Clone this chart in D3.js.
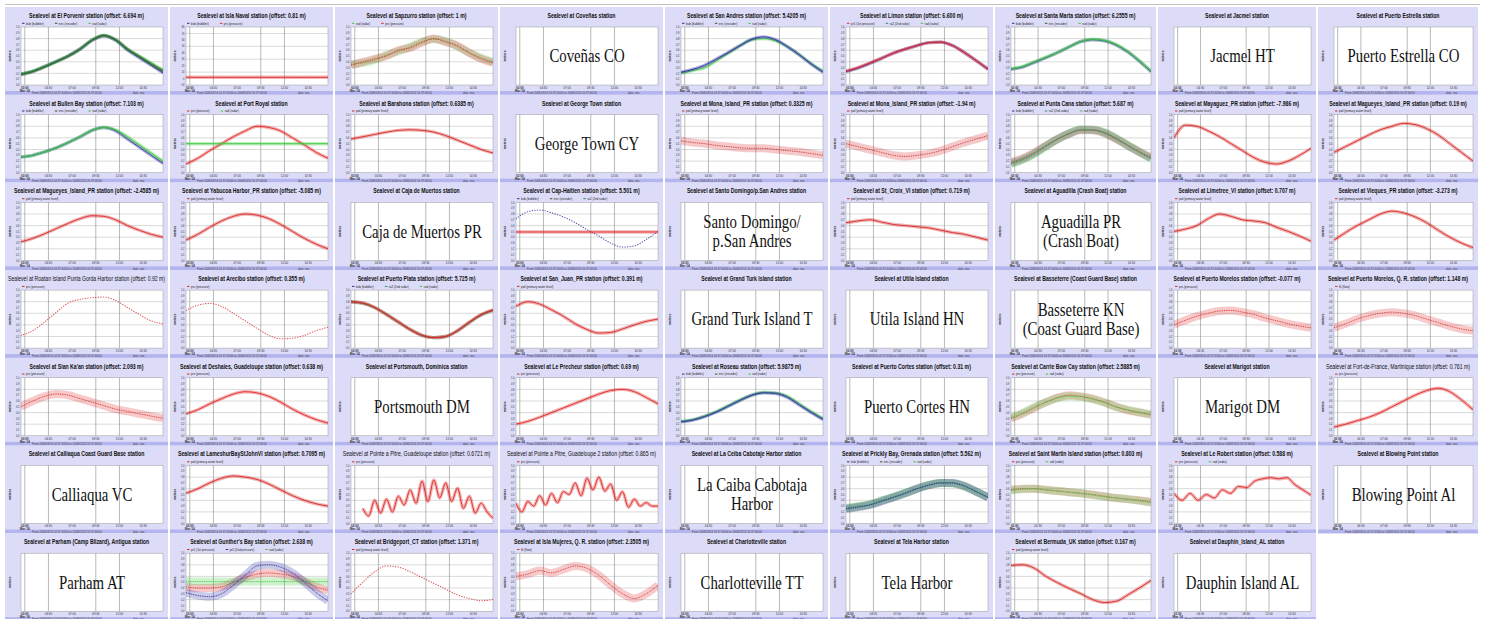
<!DOCTYPE html>
<html>
<head>
<meta charset="utf-8">
<script src="https://cdn.jsdelivr.net/npm/d3@7"></script>
<style>
  body { margin: 0; background: #fff; }
  svg { display: block; font-family: "Liberation Sans", Arial, sans-serif; }
</style>
</head>
<body>
<svg id="chart" width="1485" height="619"></svg>
<script>
// ---------------- data ----------------
const titles = [
    "Sealevel at El Porvenir station (offset: 6.694 m)",
    "Sealevel at Isla Naval station (offset: 0.81 m)",
    "Sealevel at Sapzurro station (offset: 1 m)",
    "Sealevel at Coveñas station",
    "Sealevel at San Andres station (offset: 5.4205 m)",
    "Sealevel at Limon station (offset: 6.600 m)",
    "Sealevel at Santa Marta station (offset: 6.2555 m)",
    "Sealevel at Jacmel station",
    "Sealevel at Puerto Estrella station",
    "Sealevel at Bullen Bay station (offset: 7.103 m)",
    "Sealevel at Port Royal station",
    "Sealevel at Barahona station (offset: 0.6385 m)",
    "Sealevel at George Town station",
    "Sealevel at Mona_Island_PR station (offset: 0.3325 m)",
    "Sealevel at Mona_Island_PR station (offset: -1.94 m)",
    "Sealevel at Punta Cana station (offset: 5.687 m)",
    "Sealevel at Mayaguez_PR station (offset: -7.986 m)",
    "Sealevel at Magueyes_Island_PR station (offset: 0.19 m)",
    "Sealevel at Magueyes_Island_PR station (offset: -2.4585 m)",
    "Sealevel at Yabucoa Harbor_PR station (offset: -5.085 m)",
    "Sealevel at Caja de Muertos station",
    "Sealevel at Cap-Haitien station (offset: 5.501 m)",
    "Sealevel at Santo Domingo/p.San Andres station",
    "Sealevel at St_Croix_VI station (offset: 0.719 m)",
    "Sealevel at Aguadilla (Crash Boat) station",
    "Sealevel at Limetree_VI station (offset: 0.707 m)",
    "Sealevel at Vieques_PR station (offset: -3.273 m)",
    "Sealevel at Roatan Island Punta Gorda Harbor station (offset: 0.92 m)",
    "Sealevel at Arecibo station (offset: 0.355 m)",
    "Sealevel at Puerto Plata station (offset: 5.725 m)",
    "Sealevel at San_Juan_PR station (offset: 0.391 m)",
    "Sealevel at Grand Turk Island station",
    "Sealevel at Utila Island station",
    "Sealevel at Basseterre (Coast Guard Base) station",
    "Sealevel at Puerto Morelos station (offset: -0.077 m)",
    "Sealevel at Puerto Morelos, Q. R. station (offset: 1.148 m)",
    "Sealevel at Sian Ka'an station (offset: 2.093 m)",
    "Sealevel at Deshaies, Guadeloupe station (offset: 0.638 m)",
    "Sealevel at Portsmouth, Dominica station",
    "Sealevel at Le Precheur station (offset: 0.69 m)",
    "Sealevel at Roseau station (offset: 5.9875 m)",
    "Sealevel at Puerto Cortes station (offset: 0.31 m)",
    "Sealevel at Carrie Bow Cay station (offset: 2.5885 m)",
    "Sealevel at Marigot station",
    "Sealevel at Fort-de-France, Martinique station (offset: 0.761 m)",
    "Sealevel at Calliaqua Coast Guard Base station",
    "Sealevel at LameshurBayStJohnVI station (offset: 0.7095 m)",
    "Sealevel at Pointe a Pitre, Guadeloupe station (offset: 0.6721 m)",
    "Sealevel at Pointe a Pitre, Guadeloupe 2 station (offset: 0.865 m)",
    "Sealevel at La Ceiba Cabotaje Harbor station",
    "Sealevel at Prickly Bay, Grenada station (offset: 5.562 m)",
    "Sealevel at Saint Martin Island station (offset: 0.803 m)",
    "Sealevel at Le Robert station (offset: 0.588 m)",
    "Sealevel at Blowing Point station",
    "Sealevel at Parham (Camp Blizard), Antigua station",
    "Sealevel at Gunther's Bay station (offset: 2.638 m)",
    "Sealevel at Bridgeport_CT station (offset: 1.371 m)",
    "Sealevel at Isla Mujeres, Q. R. station (offset: 2.3505 m)",
    "Sealevel at Charlotteville station",
    "Sealevel at Tela Harbor station",
    "Sealevel at Bermuda_UK station (offset: 0.167 m)",
    "Sealevel at Dauphin_Island_AL station"
];

// stations without data: label written in the plot
const placeholderText = {
    3: "Coveñas CO", 7: "Jacmel HT", 8: "Puerto Estrella CO", 12: "George Town CY",
    20: "Caja de Muertos PR", 22: "Santo Domingo/\np.San Andres", 24: "Aguadilla PR\n(Crash Boat)",
    31: "Grand Turk Island T", 32: "Utila Island HN", 33: "Basseterre KN\n(Coast Guard Base)",
    38: "Portsmouth DM", 41: "Puerto Cortes HN", 43: "Marigot DM", 45: "Calliaqua VC",
    49: "La Caiba Cabotaja\nHarbor", 53: "Blowing Point Al", 54: "Parham AT",
    58: "Charlotteville TT", 59: "Tela Harbor", 61: "Dauphin Island AL"
};

const sensorNames = {
    bub: "bub (bubbler)", enc: "enc (encoder)", rad: "rad (radar)", ra2: "ra2 (2nd radar)",
    prs: "prs (pressure)", pr1: "pr1 (1st pressure)", pr2: "pr2 (2nd pressure)",
    pwl: "pwl (primary water level)", flt: "flt (float)"
};

const legendCodes = [
    ["bub", "enc", "rad"], ["bub", "prs"], ["rad", "prs"], [], ["bub", "enc", "rad"], ["pr1", "ra2", "rad"], ["bub", "enc", "rad"], [], [],
    ["bub", "enc", "rad"], ["prs", "rad"], ["pwl"], [], ["pwl"], ["pwl"], ["bub", "ra2", "rad"], ["pwl"], ["pwl"],
    ["pwl"], ["pwl"], [], ["bub", "enc", "ra2"], [], ["pwl"], [], ["pwl"], ["pwl"],
    ["prs"], ["prs"], ["bub", "ra2", "rad"], ["pwl"], [], [], [], ["prs"], ["flt"],
    ["prs"], ["prs"], [], ["prs"], ["bub", "enc", "rad"], [], ["prs", "rad"], [], ["prs"],
    [], ["pwl"], ["prs"], ["prs"], [], ["bub", "enc", "rad"], ["prs", "rad"], ["prs", "rad"], [],
    [], ["pr1", "pr2", "rad"], ["pwl"], ["flt"], [], [], ["pwl"], []
];

// time window (hours of 2008-03-14) and its tick marks
const timeDomain = [1.6, 16.6];
const timeTicks = [2, 4.5, 7, 9.5, 12, 14.5];
const timeLabels = ["02:00", "04:30", "07:00", "09:30", "12:00", "14:30"];
const dateLabel = "Mar 14";
const footerText = "From 2008/03/14 01:37:40/00 to 2008/03/14 16:37:40/00";
const footerData = "data: sea";

// level ticks (m)
const levelTicks = [0, 0.1, 0.2, 0.3, 0.4, 0.5, 0.6, 0.7, 0.8, 0.9, 1.0];
const islaNavalTicks = [-10, 0, 10, 20, 30, 40, 50, 60, 70, 80];

// series: [sensor, values evenly spaced over the time window]
const panelSeries = [
    // row 1
    [["bub", [0.19, 0.24, 0.32, 0.41, 0.5, 0.62, 0.77, 0.85, 0.77, 0.6, 0.47, 0.34, 0.21]],
     ["rad", [0.19, 0.24, 0.32, 0.41, 0.5, 0.62, 0.78, 0.86, 0.78, 0.62, 0.5, 0.38, 0.26]],
     ["enc", [0.18, 0.23, 0.31, 0.4, 0.5, 0.62, 0.77, 0.85, 0.78, 0.62, 0.49, 0.36, 0.24]]],
    [["prs", [2, 2, 2, 2, 2, 2, 2, 2, 2, 2, 2, 2, 2]]],
    [["rad", [0.36, 0.38, 0.43, 0.52, 0.58, 0.66, 0.75, 0.79, 0.76, 0.66, 0.56, 0.47, 0.4]],
     ["prs", [0.34, 0.4, 0.45, 0.5, 0.6, 0.64, 0.73, 0.8, 0.74, 0.68, 0.55, 0.45, 0.38]]],
    [],
    [["rad", [0.2, 0.25, 0.3, 0.42, 0.55, 0.68, 0.78, 0.8, 0.76, 0.66, 0.52, 0.37, 0.24]],
     ["bub", [0.22, 0.27, 0.34, 0.45, 0.56, 0.68, 0.79, 0.83, 0.78, 0.66, 0.52, 0.36, 0.22]]],
    [["bub", [0.23, 0.29, 0.37, 0.46, 0.55, 0.62, 0.68, 0.73, 0.74, 0.68, 0.56, 0.42, 0.27]],
     ["pr1", [0.24, 0.3, 0.38, 0.46, 0.55, 0.62, 0.68, 0.73, 0.74, 0.68, 0.56, 0.42, 0.28]]],
    [["bub", [0.27, 0.31, 0.39, 0.47, 0.56, 0.66, 0.75, 0.78, 0.76, 0.69, 0.57, 0.41, 0.23]],
     ["rad", [0.28, 0.32, 0.4, 0.48, 0.56, 0.66, 0.75, 0.79, 0.77, 0.7, 0.58, 0.42, 0.24]]],
    [], [],
    // row 2
    [["bub", [0.27, 0.3, 0.36, 0.43, 0.52, 0.62, 0.73, 0.78, 0.72, 0.58, 0.44, 0.3, 0.16]],
     ["rad", [0.27, 0.3, 0.36, 0.43, 0.52, 0.62, 0.73, 0.78, 0.74, 0.62, 0.48, 0.34, 0.2]]],
    [["prs", [0.15, 0.25, 0.38, 0.5, 0.62, 0.72, 0.8, 0.78, 0.72, 0.6, 0.48, 0.35, 0.25]],
     ["rad", [0.5, 0.5, 0.5, 0.5, 0.5, 0.5, 0.5, 0.5, 0.5, 0.5, 0.5, 0.5, 0.5]]],
    [["pwl", [0.58, 0.62, 0.66, 0.7, 0.73, 0.74, 0.73, 0.7, 0.64, 0.56, 0.48, 0.4, 0.34]]],
    [],
    [["pwl", [0.55, 0.52, 0.5, 0.47, 0.45, 0.43, 0.42, 0.42, 0.4, 0.38, 0.36, 0.33, 0.3]]],
    [["pwl", [0.5, 0.45, 0.4, 0.35, 0.3, 0.28, 0.3, 0.33, 0.38, 0.45, 0.52, 0.58, 0.64]]],
    [["rad", [0.15, 0.22, 0.32, 0.45, 0.58, 0.68, 0.75, 0.74, 0.7, 0.6, 0.48, 0.36, 0.25]],
     ["prs", [0.18, 0.25, 0.35, 0.47, 0.58, 0.67, 0.73, 0.73, 0.68, 0.58, 0.47, 0.36, 0.27]],
     ["ra2", [0.16, 0.23, 0.33, 0.46, 0.58, 0.68, 0.74, 0.74, 0.69, 0.59, 0.47, 0.35, 0.24]]],
    [["pwl", [0.6, 0.82, 0.8, 0.72, 0.62, 0.5, 0.38, 0.26, 0.18, 0.15, 0.2, 0.3, 0.42]]],
    [["pwl", [0.35, 0.45, 0.55, 0.65, 0.74, 0.8, 0.85, 0.83, 0.76, 0.65, 0.5, 0.35, 0.2]]],
    // row 3
    [["pwl", [0.32, 0.38, 0.46, 0.55, 0.64, 0.72, 0.77, 0.76, 0.7, 0.6, 0.52, 0.45, 0.4]]],
    [["pwl", [0.35, 0.45, 0.57, 0.68, 0.76, 0.8, 0.78, 0.72, 0.62, 0.5, 0.38, 0.28, 0.2]]],
    [],
    [["bub", [0.72, 0.84, 0.87, 0.82, 0.75, 0.65, 0.53, 0.42, 0.3, 0.23, 0.25, 0.36, 0.5]],
     ["prs", [0.49, 0.49, 0.49, 0.49, 0.49, 0.49, 0.49, 0.49, 0.49, 0.49, 0.49, 0.49, 0.49]]],
    [],
    [["pwl", [0.65, 0.68, 0.7, 0.66, 0.62, 0.6, 0.58, 0.56, 0.52, 0.48, 0.45, 0.4, 0.35]]],
    [],
    [["pwl", [0.5, 0.54, 0.6, 0.72, 0.8, 0.76, 0.7, 0.68, 0.65, 0.57, 0.5, 0.42, 0.33]]],
    [["pwl", [0.35, 0.48, 0.6, 0.7, 0.8, 0.85, 0.82, 0.75, 0.65, 0.52, 0.4, 0.3, 0.22]]],
    // row 4
    [["prs", [0.22, 0.3, 0.45, 0.62, 0.78, 0.84, 0.87, 0.88, 0.82, 0.7, 0.58, 0.47, 0.42]]],
    [["prs", [0.65, 0.74, 0.77, 0.72, 0.6, 0.47, 0.34, 0.22, 0.16, 0.17, 0.22, 0.3, 0.36]]],
    [["enc", [0.8, 0.77, 0.7, 0.58, 0.45, 0.32, 0.22, 0.18, 0.2, 0.3, 0.44, 0.57, 0.65]],
     ["prs", [0.8, 0.78, 0.7, 0.58, 0.45, 0.32, 0.22, 0.18, 0.2, 0.3, 0.45, 0.58, 0.66]]],
    [["pwl", [0.72, 0.8, 0.76, 0.66, 0.55, 0.42, 0.32, 0.26, 0.27, 0.33, 0.4, 0.46, 0.5]]],
    [], [], [],
    [["prs", [0.4, 0.48, 0.55, 0.6, 0.64, 0.65, 0.62, 0.58, 0.52, 0.47, 0.42, 0.38, 0.35]]],
    [["flt", [0.35, 0.42, 0.5, 0.56, 0.6, 0.62, 0.6, 0.56, 0.5, 0.44, 0.38, 0.33, 0.3]]],
    // row 5
    [["prs", [0.5, 0.6, 0.68, 0.72, 0.7, 0.64, 0.58, 0.52, 0.46, 0.42, 0.38, 0.34, 0.3]]],
    [["prs", [0.38, 0.45, 0.55, 0.64, 0.72, 0.76, 0.74, 0.68, 0.58, 0.46, 0.36, 0.28, 0.22]]],
    [],
    [["prs", [0.2, 0.25, 0.32, 0.4, 0.48, 0.56, 0.64, 0.72, 0.78, 0.8, 0.76, 0.66, 0.55]]],
    [["rad", [0.25, 0.28, 0.34, 0.42, 0.52, 0.62, 0.7, 0.75, 0.74, 0.68, 0.55, 0.42, 0.3]],
     ["bub", [0.24, 0.27, 0.33, 0.41, 0.51, 0.61, 0.7, 0.74, 0.73, 0.66, 0.53, 0.4, 0.28]]],
    [],
    [["prs", [0.3, 0.38, 0.48, 0.58, 0.66, 0.7, 0.68, 0.64, 0.58, 0.5, 0.44, 0.4, 0.36]],
     ["rad", [0.32, 0.4, 0.5, 0.58, 0.65, 0.68, 0.67, 0.63, 0.57, 0.5, 0.45, 0.41, 0.37]]],
    [],
    [["prs", [0.15, 0.2, 0.26, 0.32, 0.4, 0.5, 0.6, 0.7, 0.78, 0.82, 0.76, 0.62, 0.45]]],
    // row 6
    [],
    [["pwl", [0.52, 0.6, 0.7, 0.78, 0.82, 0.8, 0.76, 0.68, 0.58, 0.48, 0.4, 0.34, 0.3]]],
    [["prs", [null, null, 0.26, 0.13, 0.4, 0.18, 0.42, 0.2, 0.47, 0.32, 0.58, 0.35, 0.73,
              0.38, 0.75, 0.44, 0.7, 0.38, 0.61, 0.26, 0.47, 0.18, 0.35, 0.2, 0.09]]],
    [["prs", [0.35, 0.2, 0.38, 0.3, 0.48, 0.32, 0.52, 0.36, 0.55, 0.5, 0.7, 0.48, 0.78,
              0.58, 0.8, 0.56, 0.68, 0.4, 0.55, 0.28, 0.42, 0.3, 0.36, 0.3, 0.3]]],
    [],
    [["enc", [0.26, 0.29, 0.32, 0.39, 0.45, 0.52, 0.6, 0.66, 0.7, 0.7, 0.64, 0.55, 0.45]],
     ["rad", [0.27, 0.3, 0.33, 0.4, 0.46, 0.53, 0.6, 0.67, 0.7, 0.69, 0.64, 0.55, 0.46]],
     ["bub", [0.25, 0.28, 0.32, 0.38, 0.45, 0.52, 0.6, 0.66, 0.7, 0.7, 0.65, 0.55, 0.45]]],
    [["prs", [0.58, 0.6, 0.6, 0.58, 0.56, 0.54, 0.52, 0.5, 0.47, 0.44, 0.42, 0.4, 0.37]],
     ["rad", [0.57, 0.59, 0.6, 0.58, 0.56, 0.54, 0.52, 0.49, 0.46, 0.44, 0.42, 0.39, 0.36]]],
    [["prs", [0.52, 0.4, 0.52, 0.4, 0.5, 0.44, 0.58, 0.52, 0.64, 0.62, 0.73, 0.77, 0.79,
              0.77, 0.79, 0.67, 0.58, 0.49]]],
    [],
    // row 7
    [],
    [["pr1", [0.42, 0.4, 0.4, 0.42, 0.5, 0.58, 0.64, 0.66, 0.64, 0.6, 0.52, 0.42, 0.36]],
     ["rad", [0.51, 0.51, 0.51, 0.51, 0.51, 0.51, 0.51, 0.51, 0.51, 0.51, 0.51, 0.51, 0.51]],
     ["pr2", [0.32, 0.27, 0.25, 0.3, 0.45, 0.62, 0.78, 0.8, 0.76, 0.66, 0.5, 0.32, 0.18]]],
    [["pwl", [0.3, 0.5, 0.68, 0.78, 0.76, 0.68, 0.58, 0.48, 0.38, 0.28, 0.22, 0.18, 0.2]]],
    [["flt", [0.6, 0.64, 0.7, 0.66, 0.72, 0.78, 0.74, 0.62, 0.45, 0.3, 0.22, 0.3, 0.45]]],
    [], [],
    [["pwl", [0.79, 0.8, 0.74, 0.6, 0.49, 0.39, 0.3, 0.2, 0.15, 0.17, 0.28, 0.4, 0.53]]],
    []
];

// ---------------- layout & style ----------------
const colEdges = [5, 170, 335, 500, 665, 830, 995, 1158, 1318, 1480];
const rowStep = 87.7;
const sensorColors = {
    bub: "#2b2ba8", enc: "#2c5a2c", rad: "#3cc83c", ra2: "#2a8c7a",
    prs: "#e02828", pr1: "#e02828", pr2: "#2b2ba8", pwl: "#d82828", flt: "#e03030"
};
const noisyPanels = new Set([2, 13, 14, 15, 34, 35, 36, 42, 50, 51, 55, 57]);
const dottedPanels = new Set([27, 28, 56]);
const lightTitles = new Set([27, 44, 47, 48]);
const gridTimes = [timeTicks[0], timeTicks[1], timeTicks[3], timeTicks[4]];

const svg = d3.select("#chart");

// narrow text horizontally (the original screenshots are squeezed)
function squash(sel, k, maxW) {
    sel.each(function() {
        const el = d3.select(this);
        const w = this.getComputedTextLength();
        let s = k;
        if (maxW && w * s > maxW) s = maxW / w;
        const x0 = +el.attr("x"), y0 = +el.attr("y");
        el.attr("x", 0).attr("y", 0)
            .attr("transform", `translate(${x0},${y0}) scale(${s},1)`);
    });
}

svg.append("line")
    .attr("x1", 5).attr("x2", 1480).attr("y1", 4.5).attr("y2", 4.5)
    .attr("stroke", "#c4c4c4").attr("stroke-width", 1);

titles.forEach(function(title, i) {
    const r = Math.floor(i / 9), c = i % 9;
    const L = colEdges[c], R = colEdges[c + 1] - 2, T = 7 + r * rowStep;
    const pl = L + 16, pr = R - 5, pt = T + 20, pb = T + 78;
    const g = svg.append("g");

    // panel background and footer bar
    g.append("rect").attr("x", L).attr("y", T).attr("width", R - L).attr("height", rowStep)
        .attr("fill", "#dcdcf8");
    g.append("rect").attr("x", L).attr("y", T + 84).attr("width", R - L).attr("height", 3.9)
        .attr("fill", "#b4b4ee");

    const t = g.append("text")
        .attr("x", (L + R) / 2).attr("y", T + 10.8)
        .attr("text-anchor", "middle")
        .attr("font-size", 7)
        .attr("font-weight", lightTitles.has(i) ? "normal" : "bold")
        .attr("fill", "#111")
        .text(title);
    squash(t, 0.74, R - L - 6);

    const x = d3.scaleLinear().domain(timeDomain).range([pl, pr]);
    const ticks = i === 1 ? islaNavalTicks : levelTicks;
    const y = d3.scaleLinear().domain(d3.extent(ticks)).range([pb, pt]);
    const isEmpty = placeholderText[i] !== undefined;

    g.append("rect").attr("x", pl).attr("y", pt).attr("width", pr - pl).attr("height", pb - pt)
        .attr("fill", "#fff").attr("stroke", "#9a9a9a").attr("stroke-width", 0.5);

    // grid
    if (!isEmpty) {
        g.selectAll(null)
            .data(ticks.filter((d, k) => k > 0 && k < ticks.length - 1 && k % 2 === 0))
            .join("line")
            .attr("x1", pl).attr("x2", pr)
            .attr("y1", d => y(d)).attr("y2", d => y(d))
            .attr("stroke", "#b4b4b4").attr("stroke-width", 0.5);
    }
    g.selectAll(null)
        .data(gridTimes)
        .join("line")
        .attr("x1", d => x(d)).attr("x2", d => x(d))
        .attr("y1", pt).attr("y2", pb)
        .attr("stroke", "#8c8c8c").attr("stroke-width", 0.6);

    // y axis labels
    if (!isEmpty) {
        const yl = g.selectAll(null)
            .data(ticks)
            .join("text")
            .attr("x", pl - 1.5).attr("y", d => y(d) + 1.1)
            .attr("text-anchor", "end")
            .attr("font-size", 3.2)
            .attr("fill", "#333")
            .text(d => i === 1 ? d3.format("d")(d) : d3.format(".1f")(d));
        squash(yl, 0.8);
    }
    g.append("text")
        .attr("transform", `translate(${L + 5.5},${(pt + pb) / 2}) rotate(-90)`)
        .attr("text-anchor", "middle")
        .attr("font-size", 3.4).attr("font-weight", "bold").attr("fill", "#333")
        .text("meters");

    // x axis labels
    const xl = g.selectAll(null)
        .data(timeTicks)
        .join("text")
        .attr("x", d => x(d)).attr("y", pb + 3.8)
        .attr("text-anchor", "middle")
        .attr("font-size", 3.5)
        .attr("font-weight", (d, k) => k === 0 ? "bold" : "normal")
        .attr("fill", "#333")
        .text((d, k) => timeLabels[k]);
    squash(xl, 0.85);
    g.append("text")
        .attr("x", x(timeTicks[0])).attr("y", pb + 6.9)
        .attr("text-anchor", "middle")
        .attr("font-size", 3.2).attr("font-weight", "bold").attr("fill", "#333")
        .text(dateLabel);

    // footer
    const ft = g.append("text")
        .attr("x", L + 27).attr("y", T + 87.1)
        .attr("font-size", 3.4).attr("fill", "#444")
        .text(footerText);
    squash(ft, 0.82);
    const fd = g.append("text")
        .attr("x", L + 128).attr("y", T + 87.1)
        .attr("font-size", 3.4).attr("fill", "#444")
        .text(footerData);
    squash(fd, 0.82);

    if (isEmpty) {
        const lines = placeholderText[i].split("\n");
        const cy = (pt + pb) / 2;
        lines.forEach(function(line, k) {
            const off = (k - (lines.length - 1) / 2) * 19;
            const pt2 = g.append("text")
                .attr("x", (pl + pr) / 2).attr("y", cy + off + 6.3)
                .attr("text-anchor", "middle")
                .attr("font-family", "'Liberation Serif', 'Times New Roman', serif")
                .attr("font-size", 19).attr("fill", "#111")
                .text(line);
            squash(pt2, 0.78, pr - pl - 4);
        });
        return;
    }

    // legend
    let lx = pl + 1;
    legendCodes[i].forEach(function(code) {
        g.append("line").attr("x1", lx).attr("x2", lx + 2.5)
            .attr("y1", T + 16.3).attr("y2", T + 16.3)
            .attr("stroke", sensorColors[code]).attr("stroke-width", 1);
        const lt = g.append("text")
            .attr("x", lx + 4).attr("y", T + 17.5)
            .attr("font-size", 4).attr("fill", "#222")
            .text(sensorNames[code]);
        const w = lt.node().getComputedTextLength() * 0.75;
        squash(lt, 0.75);
        lx += 4 + w + 11;
    });

    // series
    const clipId = "clip" + i;
    g.append("clipPath").attr("id", clipId)
        .append("rect").attr("x", pl).attr("y", pt).attr("width", pr - pl).attr("height", pb - pt);
    const plot = g.append("g").attr("clip-path", `url(#${clipId})`);

    panelSeries[i].forEach(function(s) {
        const code = s[0], vals = s[1];
        const idx = d3.scaleLinear().domain([0, vals.length - 1]).range(timeDomain);
        const line = d3.line()
            .defined(d => d != null)
            .x((d, j) => x(idx(j)))
            .y(d => y(d))
            .curve(d3.curveMonotoneX);
        const col = sensorColors[code];
        if (dottedPanels.has(i) || (i === 21 && code === "bub")) {
            plot.append("path").attr("d", line(vals))
                .attr("fill", "none").attr("stroke", col)
                .attr("stroke-width", 1.1).attr("stroke-linecap", "round")
                .attr("stroke-dasharray", "0.4,2.2").attr("opacity", 0.8);
            return;
        }
        const noisy = noisyPanels.has(i);
        plot.append("path").attr("d", line(vals))
            .attr("fill", "none").attr("stroke", col)
            .attr("stroke-width", noisy ? 8 : 3.4)
            .attr("stroke-linejoin", "round")
            .attr("opacity", noisy ? 0.25 : 0.35);
        plot.append("path").attr("d", line(vals))
            .attr("fill", "none").attr("stroke", col)
            .attr("stroke-width", 0.9)
            .attr("stroke-dasharray", noisy ? "1,0.8" : null);
    });
});
</script>
</body>
</html>
